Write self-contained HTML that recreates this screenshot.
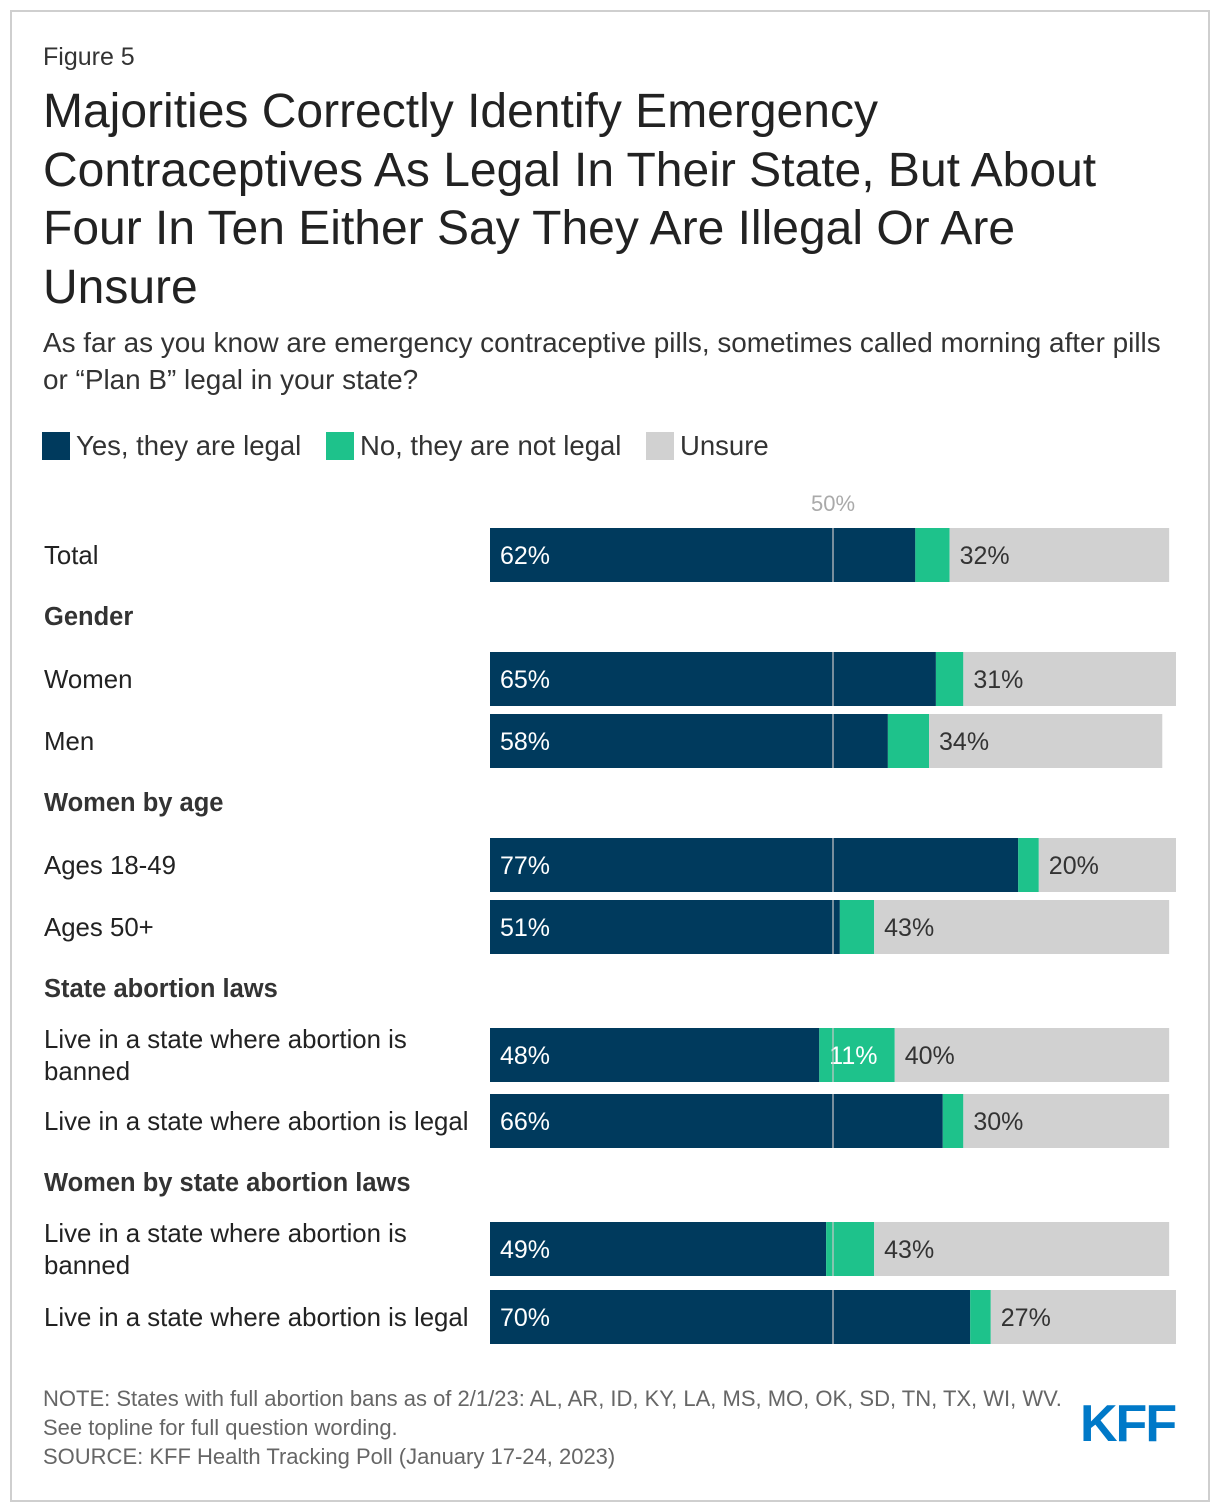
<!DOCTYPE html>
<html><head><meta charset="utf-8"><style>
body{margin:0;background:#fff;font-family:"Liberation Sans",Arial,sans-serif;}
#frame{position:absolute;left:10px;top:10px;width:1196px;height:1488px;border:2px solid #cfcfcf;}
.t{position:absolute;left:43px;color:#222;white-space:nowrap;}
</style></head><body>
<div id="frame"></div>
<div class="t" style="top:43px;font-size:25px;color:#333">Figure 5</div>
<div class="t" style="top:83px;font-size:48px;line-height:58.5px;color:#222">Majorities Correctly Identify Emergency<br>Contraceptives As Legal In Their State, But About<br>Four In Ten Either Say They Are Illegal Or Are<br>Unsure</div>
<div class="t" style="top:324px;font-size:27.9px;line-height:37px;color:#333">As far as you know are emergency contraceptive pills, sometimes called morning after pills<br>or “Plan B” legal in your state?</div>
<svg id="chart" width="1220" height="1512" style="position:absolute;left:0;top:0"></svg>
<div class="t" style="top:1384px;font-size:22px;line-height:29px;color:#666">NOTE: States with full abortion bans as of 2/1/23: AL, AR, ID, KY, LA, MS, MO, OK, SD, TN, TX, WI, WV.<br>See topline for full question wording.<br>SOURCE: KFF Health Tracking Poll (January 17-24, 2023)</div>
<div style="position:absolute;left:1080px;top:1394px;font-size:52px;font-weight:bold;color:#0079c8;letter-spacing:-2px;font-family:'Liberation Sans',sans-serif">KFF</div>
<script>
const categories=["Total","Women","Men","Ages 18-49","Ages 50+","Live in a state where abortion is|banned","Live in a state where abortion is legal","Live in a state where abortion is|banned","Live in a state where abortion is legal"];
const yesValues=[62,65,58,77,51,48,66,49,70];
const noValues=[5,4,6,3,5,11,3,7,3];
const unsureValues=[32,31,34,20,43,40,30,43,27];
const rowTops=[528,652,714,838,900,1028,1094,1222,1290];
const headers=[["Gender",617],["Women by age",803],["State abortion laws",989],["Women by state abortion laws",1183]];
const NS="http://www.w3.org/2000/svg",svg=document.getElementById('chart');
const x0=490,scale=6.86,bh=54;
const X=v=>x0+v*scale;
function mk(tag,attrs,txt){const e=document.createElementNS(NS,tag);for(const k in attrs)e.setAttribute(k,attrs[k]);if(txt!=null)e.textContent=txt;svg.appendChild(e);return e;}
const leg=[["Yes, they are legal","#003a5d",42],["No, they are not legal","#1ec28b",326],["Unsure","#d1d1d1",646]];
leg.forEach(l=>{const r=mk('rect',{x:l[2],y:432,width:28,height:28,fill:l[1]});


const t=mk('text',{x:l[2]+34,y:455,'font-size':27.5,fill:'#333'},l[0]);

});
const f=mk('text',{x:X(50),y:511,'font-size':22,fill:'#aaa','text-anchor':'middle'},'50%');


headers.forEach(h=>{const t=mk('text',{x:44,y:h[1]+8,'font-size':25.5,'font-weight':'bold',fill:'#333'},h[0]);

});
categories.forEach((c,i)=>{const y=rowTops[i];const parts=c.split('|');
if(parts.length>1){parts.forEach((p,j)=>{const t=mk('text',{x:44,y:y+20+j*32,'font-size':25.8,fill:'#222'},p);

});}
else{const t=mk('text',{x:44,y:y+36,'font-size':25.8,fill:'#222'},c);

}
const a=yesValues[i],b=noValues[i],u=unsureValues[i];
const r1=mk('rect',{x:X(0),y:y,width:X(a)-X(0),height:bh,fill:'#003a5d'});


const r2=mk('rect',{x:X(a),y:y,width:X(a+b)-X(a),height:bh,fill:'#1ec28b'});


const r3=mk('rect',{x:X(a+b),y:y,width:X(a+b+u)-X(a+b),height:bh,fill:'#d1d1d1'});


const l1=mk('text',{x:X(0)+10,y:y+36,'font-size':25,fill:'#fff'},a+'%');


if(b>=10){const l2=mk('text',{x:X(a)+10,y:y+36,'font-size':25,fill:'#fff'},b+'%');

}
const l3=mk('text',{x:X(a+b)+10,y:y+36,'font-size':25,fill:'#333'},u+'%');


const ml=mk('line',{x1:X(50),x2:X(50),y1:y,y2:y+bh,stroke:'#c8c8c8','stroke-width':1.5,opacity:0.8});


});
</script>
</body></html>
